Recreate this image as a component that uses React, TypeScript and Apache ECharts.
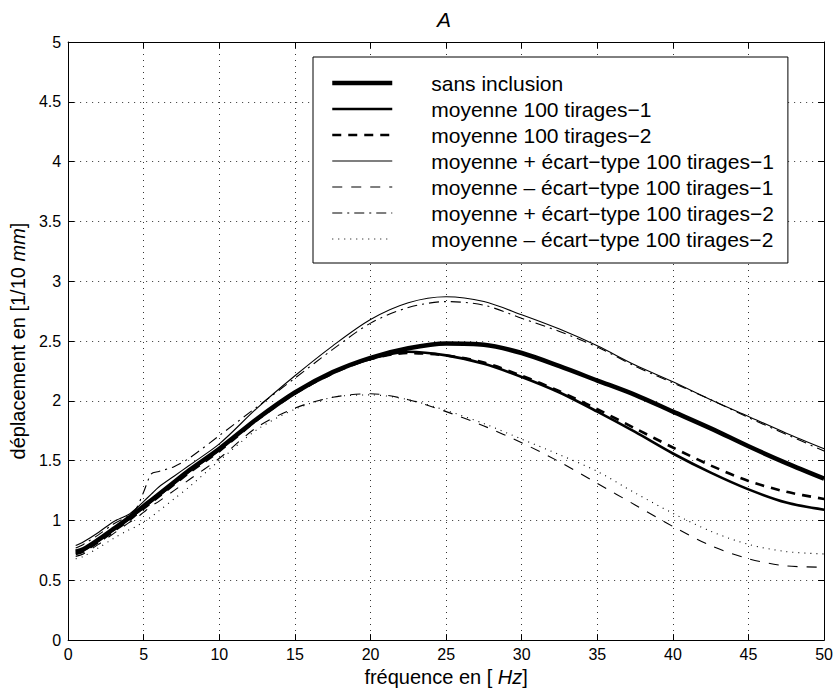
import React, { useEffect, useRef } from "react";
import * as echarts from "echarts";

const freq = [0.5, 1, 2, 3, 4, 4.5, 5, 5.5, 6, 7, 8, 10, 12.5, 15, 17.5, 20, 22.5, 25, 27.5, 30, 32.5, 35, 37.5, 40, 42.5, 45, 47.5, 50];

const sansInclusion = [0.74, 0.76, 0.84, 0.93, 1.02, 1.07, 1.12, 1.17, 1.22, 1.32, 1.42, 1.60, 1.85, 2.07, 2.24, 2.36, 2.44, 2.48, 2.47, 2.40, 2.29, 2.17, 2.05, 1.91, 1.77, 1.62, 1.48, 1.35];
const moyenne1 = [0.73, 0.75, 0.83, 0.92, 1.01, 1.06, 1.11, 1.16, 1.21, 1.31, 1.41, 1.59, 1.85, 2.07, 2.24, 2.35, 2.41, 2.38, 2.31, 2.20, 2.07, 1.91, 1.74, 1.56, 1.40, 1.26, 1.15, 1.09];
const moyenne2 = [0.72, 0.74, 0.82, 0.91, 1.00, 1.05, 1.10, 1.15, 1.20, 1.30, 1.40, 1.58, 1.84, 2.06, 2.23, 2.35, 2.40, 2.38, 2.32, 2.21, 2.08, 1.93, 1.77, 1.61, 1.46, 1.33, 1.24, 1.18];
const plusStd1 = [0.79, 0.82, 0.90, 0.99, 1.05, 1.10, 1.16, 1.22, 1.28, 1.37, 1.46, 1.64, 1.94, 2.21, 2.46, 2.68, 2.82, 2.87, 2.83, 2.72, 2.60, 2.46, 2.30, 2.16, 2.01, 1.87, 1.73, 1.60];
const minusStd1 = [0.70, 0.72, 0.80, 0.89, 0.98, 1.02, 1.07, 1.12, 1.16, 1.25, 1.34, 1.52, 1.78, 1.94, 2.03, 2.06, 2.01, 1.91, 1.79, 1.65, 1.49, 1.31, 1.13, 0.95, 0.79, 0.68, 0.62, 0.61];
const plusStd2 = [0.77, 0.80, 0.88, 0.97, 1.04, 1.10, 1.24, 1.39, 1.41, 1.45, 1.52, 1.71, 1.95, 2.19, 2.43, 2.65, 2.78, 2.83, 2.80, 2.69, 2.58, 2.45, 2.29, 2.15, 2.01, 1.86, 1.72, 1.58];
const minusStd2 = [0.68, 0.70, 0.77, 0.85, 0.92, 0.95, 0.99, 1.03, 1.08, 1.18, 1.28, 1.50, 1.76, 1.93, 2.03, 2.05, 2.01, 1.92, 1.81, 1.68, 1.55, 1.41, 1.23, 1.06, 0.91, 0.80, 0.74, 0.72];

const seriesNames = [
  "sans inclusion",
  "moyenne 100 tirages\u22121",
  "moyenne 100 tirages\u22122",
  "moyenne + \u00e9cart\u2212type 100 tirages\u22121",
  "moyenne \u2013 \u00e9cart\u2212type 100 tirages\u22121",
  "moyenne + \u00e9cart\u2212type 100 tirages\u22122",
  "moyenne \u2013 \u00e9cart\u2212type 100 tirages\u22122",
];
const seriesValues = [sansInclusion, moyenne1, moyenne2, plusStd1, minusStd1, plusStd2, minusStd2];
const seriesWidths = [4.5, 2.6, 2.6, 1.1, 1.1, 1.1, 1.1];
const seriesTypes: any[] = ["solid", "solid", [9, 7], "solid", [10, 9], [10, 5, 2, 5], [1, 5]];

const FONT = "'Liberation Sans', Arial, Helvetica, sans-serif";

export default function App() {
  const ref = useRef<HTMLDivElement>(null);
  useEffect(() => {
    if (!ref.current) return;
    const chart = echarts.init(ref.current, undefined, { renderer: "svg" });
    const gridLine = { show: true, lineStyle: { color: "#333", width: 1, type: [1, 5] as any } };
    const axisLine = { show: true, onZero: false, lineStyle: { color: "#000", width: 1 } };
    const axisTick = { show: true, inside: true, length: 6, lineStyle: { color: "#000", width: 1 } };
    chart.setOption({
      animation: false,
      backgroundColor: "#fff",
      textStyle: { fontFamily: FONT, color: "#000" },
      title: {
        text: "A",
        left: 444,
        textAlign: "center",
        top: 9,
        padding: 0,
        textStyle: { fontFamily: FONT, fontSize: 21, fontStyle: "italic", fontWeight: "normal", color: "#000" },
      },
      grid: { left: 62, right: 10, top: 42, bottom: 48, containLabel: false },
      legend: {
        orient: "vertical",
        left: 313,
        top: 57,
        padding: [15, 14, 13, 17],
        itemWidth: 60,
        itemHeight: 14,
        itemGap: 4,
        borderColor: "#000",
        borderWidth: 1,
        backgroundColor: "#fff",
        textStyle: { fontFamily: FONT, fontSize: 21, color: "#000", padding: [0, 0, 0, 34], lineHeight: 22 },
        data: seriesNames.map((n, i) => ({
          name: n,
          itemStyle: { opacity: 0 },
          lineStyle: { color: "#000", width: seriesWidths[i], type: seriesTypes[i], opacity: 1 },
        })),
      },
      xAxis: [
        {
          type: "value",
          min: 0,
          max: 50,
          interval: 5,
          position: "bottom",
          name: "fr\u00e9quence en [ {i|Hz}]",
          nameLocation: "middle",
          nameGap: 25,
          nameTextStyle: { fontFamily: FONT, fontSize: 20, color: "#000", rich: { i: { fontFamily: FONT, fontSize: 20, fontStyle: "italic", color: "#000" } } },
          axisLine,
          axisTick,
          axisLabel: { fontFamily: FONT, fontSize: 16, color: "#000", margin: 6 },
          splitLine: gridLine,
        },
        {
          type: "value",
          min: 0,
          max: 50,
          interval: 5,
          position: "top",
          axisLine,
          axisTick,
          axisLabel: { show: false },
          splitLine: { show: false },
        },
      ],
      yAxis: [
        {
          type: "value",
          min: 0,
          max: 5,
          interval: 0.5,
          position: "left",
          name: "d\u00e9placement en [1/10 {i|mm}]",
          nameLocation: "middle",
          nameGap: 28,
          nameTextStyle: { fontFamily: FONT, fontSize: 20, color: "#000", rich: { i: { fontFamily: FONT, fontSize: 20, fontStyle: "italic", color: "#000" } } },
          axisLine,
          axisTick,
          axisLabel: { fontFamily: FONT, fontSize: 16, color: "#000", margin: 7 },
          splitLine: gridLine,
        },
        {
          type: "value",
          min: 0,
          max: 5,
          interval: 0.5,
          position: "right",
          axisLine,
          axisTick,
          axisLabel: { show: false },
          splitLine: { show: false },
        },
      ],
      series: seriesNames.map((n, i) => ({
        name: n,
        type: "line",
        xAxisIndex: 0,
        yAxisIndex: 0,
        symbol: "none",
        smooth: 0.3,
        data: freq.map((f, j) => [f, seriesValues[i][j]]),
        lineStyle: { color: "#000", width: seriesWidths[i], type: seriesTypes[i] },
        itemStyle: { color: "#000" },
        z: 10 - i,
      })),
    });
    return () => chart.dispose();
  }, []);
  return (
    <div
      ref={ref}
      style={{ position: "fixed", left: 0, top: 0, width: 836, height: 692, background: "#fff" }}
    />
  );
}
